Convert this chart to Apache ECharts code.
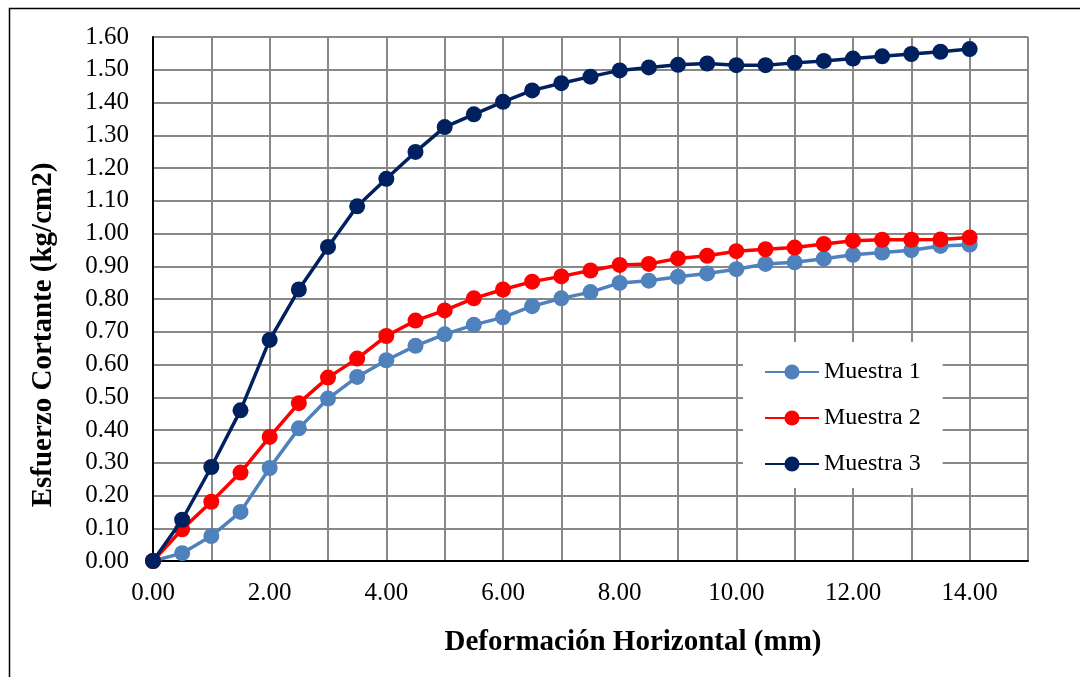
<!DOCTYPE html>
<html>
<head>
<meta charset="utf-8">
<script src="https://cdn.jsdelivr.net/npm/echarts@6/dist/echarts.min.js"></script>
<style>
html,body{margin:0;padding:0;background:#fff;}
#chart{width:1080px;height:677px;}
</style>
</head>
<body>
<div id="chart"></div>
<script>
const deformacion = [0,0.5,1,1.5,2,2.5,3,3.5,4,4.5,5,5.5,6,6.5,7,7.5,8,8.5,9,9.5,10,10.5,11,11.5,12,12.5,13,13.5,14];
const muestra1 = [0,0.024,0.076,0.150,0.284,0.405,0.496,0.562,0.613,0.657,0.692,0.721,0.744,0.778,0.802,0.821,0.849,0.856,0.868,0.878,0.891,0.907,0.912,0.923,0.935,0.942,0.949,0.962,0.966];
const muestra2 = [0,0.097,0.181,0.270,0.379,0.482,0.560,0.618,0.687,0.734,0.765,0.802,0.829,0.853,0.869,0.887,0.904,0.907,0.924,0.932,0.946,0.952,0.957,0.968,0.978,0.981,0.981,0.982,0.988];
const muestra3 = [0,0.126,0.287,0.460,0.675,0.829,0.959,1.083,1.167,1.249,1.325,1.364,1.402,1.437,1.459,1.479,1.498,1.507,1.515,1.519,1.514,1.514,1.521,1.527,1.534,1.541,1.548,1.555,1.563];
const seriesNames = ['Muestra 1','Muestra 2','Muestra 3'];
const seriesColors = ['#4F81BD','#FF0000','#002060'];
const xTitle = 'Deformación Horizontal (mm)';
const yTitle = 'Esfuerzo Cortante (kg/cm2)';

const font = 'Liberation Serif, Times New Roman, serif';
const chart = echarts.init(document.getElementById('chart'));
const dataSets = [muestra1, muestra2, muestra3];

const series = dataSets.map((vals, i) => ({
  name: seriesNames[i],
  type: 'line',
  data: deformacion.map((x, k) => [x, vals[k]]),
  symbol: 'circle',
  symbolSize: 16,
  lineStyle: {color: seriesColors[i], width: 3.5},
  itemStyle: {color: seriesColors[i]},
  z: 3 + i,
  animation: false
}));

chart.setOption({
  animation: false,
  backgroundColor: '#fff',
  graphic: [{
    type: 'rect', left: 7, top: 6, z: -10, silent: true,
    shape: {width: 1100, height: 720},
    style: {fill: 'none', stroke: '#000', lineWidth: 1.5}
  }, {
    type: 'text', x: 633, y: 643, silent: true,
    style: {text: xTitle, font: 'bold 29px ' + font, fill: '#000', align: 'center', verticalAlign: 'middle'}
  }, {
    type: 'text', x: 44, y: 335, rotation: Math.PI / 2, silent: true,
    style: {text: yTitle, font: 'bold 29px ' + font, fill: '#000', align: 'center', verticalAlign: 'middle'}
  }],
  grid: {
    left: 153, top: 37, right: 52, bottom: 116,
    show: true, borderColor: '#222', borderWidth: 1.5, borderType: [2, 2]
  },
  legend: {
    orient: 'vertical',
    left: 743, top: 342,
    backgroundColor: '#fff',
    padding: [18, 22, 12, 21],
    itemGap: 22,
    itemWidth: 54,
    itemHeight: 19,
    textStyle: {fontFamily: font, fontSize: 24, color: '#000'},
    data: seriesNames
  },
  xAxis: {
    type: 'value', min: 0, max: 15, interval: 1,
    axisLine: {show: true, lineStyle: {color: '#000', width: 2}},
    axisTick: {show: false},
    axisLabel: {
      margin: 20, fontFamily: font, fontSize: 25, color: '#000',
      formatter: v => (v % 2 === 0 && v <= 14) ? v.toFixed(2) : ''
    },
    splitLine: {show: true, lineStyle: {color: '#888', width: 2}}
  },
  yAxis: {
    type: 'value', min: 0, max: 1.6, interval: 0.1,
    axisLine: {show: true, lineStyle: {color: '#000', width: 2}},
    axisTick: {show: false},
    axisLabel: {
      margin: 24, fontFamily: font, fontSize: 25, color: '#000',
      formatter: v => v.toFixed(2)
    },
    splitLine: {show: true, lineStyle: {color: '#888', width: 2}}
  },
  series: series
});
</script>
</body>
</html>
